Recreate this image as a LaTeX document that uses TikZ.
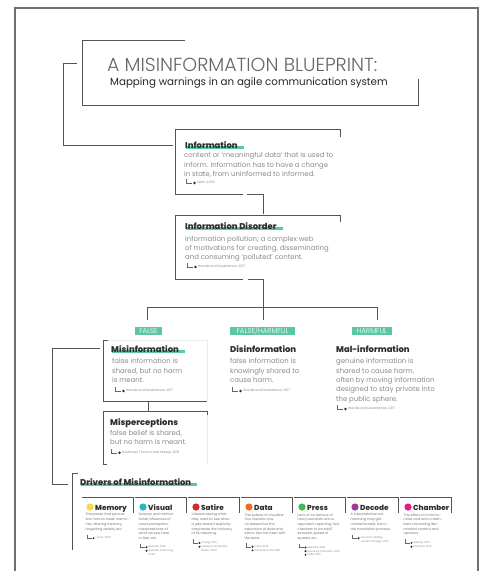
\documentclass[tikz,border=0pt]{standalone}
\usepackage{fontspec}
\setmainfont{Poppins}
\IfFontExistsTF{Poppins Light}{\newfontfamily\lightf{Poppins Light}}{\newfontfamily\lightf{Poppins}}
\IfFontExistsTF{Poppins ExtraBold}{\newfontfamily\heavyf{Poppins ExtraBold}}{\newfontfamily\heavyf{Poppins}[UprightFont=*Bold]}
\usetikzlibrary{calc,backgrounds}
\definecolor{frameg}{HTML}{707070}
\definecolor{lineg}{HTML}{555555}
\definecolor{bodyg}{HTML}{8A8A8A}
\definecolor{headk}{HTML}{2E2E2E}
\definecolor{mint}{HTML}{5CC7A6}
\definecolor{cmem}{HTML}{F6DA4B}
\definecolor{cvis}{HTML}{2AB3C6}
\definecolor{csat}{HTML}{D7242C}
\definecolor{cdat}{HTML}{F06A24}
\definecolor{cpre}{HTML}{3FBA4F}
\definecolor{cdec}{HTML}{993C96}
\definecolor{ccha}{HTML}{E51B8B}
\newcommand\hdline[1]{\begin{scope}[on background layer]\fill[mint] ($(#1.base west)+(1,-2.2)$) rectangle ($(#1.base east)+(6,0.6)$);\end{scope}}
\newcommand\citeat[3]{%
  \coordinate (#1c) at (#2);
  \draw[citel] ($(#1c)+(0,-4)$) -- (#1c) -- ($(#1c)+(6,0)$);
  \fill[headk] ($(#1c)+(8.5,0)$) circle (1.4pt);
  \node[cite] (#1) at ($(#1c)+(11,0)$) {#3};}
\newcommand\drv[5]{%
  \coordinate (#1l) at (#2,497);
  \draw[boxl] (#1l) -- ($(#1l)+(51,0)$) -- ($(#1l)+(51,16)$);
  \fill[#3] ($(#1l)+(8,10)$) circle (3.6pt);
  \node[dtitle] (#1t) at ($(#1l)+(13,13.1)$) {#4};
  \node[dbody] (#1b) at ($(#1l)+(3.5,16.2)$) {#5};}
\newcommand\dciteA[3]{%
  \coordinate (#1c) at ($(#2.south west)+(1.5,7)$);
  \draw[citel] ($(#1c)+(0,-3.5)$) -- (#1c) -- ($(#1c)+(4.5,0)$);
  \fill[headk] ($(#1c)+(6.5,0)$) circle (1.1pt);
  \node[dcite] (#1) at ($(#1c)+(8.5,-1.4)$) {#3};}
\newcommand\dciteB[3]{%
  \coordinate (#1c) at ($(#2.south west)+(-2,2.3)$);
  \fill[headk] (#1c) circle (1.1pt);
  \node[dcite] (#1) at ($(#1c)+(2,-1.4)$) {#3};}
\begin{document}
\begin{tikzpicture}[x=1pt,y=-1pt,
  frame/.style={draw=frameg,line width=1.4pt},
  boxl/.style={draw=lineg,line width=0.75pt},
  faint/.style={draw=black!7,line width=0.6pt},
  citel/.style={draw=black!60,line width=0.4pt},
  ttl/.style={font=\lightf\fontsize{18.9}{22}\selectfont,text=black!60,inner sep=0,anchor=base west},
  subt/.style={font=\fontsize{10.3}{12}\selectfont,text=black!85,inner sep=0,anchor=base west},
  hd/.style={font=\heavyf\fontsize{8.4}{10}\selectfont,text=headk,inner sep=0,anchor=base west},
  body/.style={font=\fontsize{6.9}{9.3}\selectfont,text=bodyg,inner sep=0,anchor=north west,align=left},
  tag/.style={fill=mint,text=white,font=\lightf\fontsize{7}{8}\selectfont,inner sep=0,minimum height=8.5pt},
  cite/.style={font=\fontsize{3.2}{4}\selectfont,text=bodyg,inner sep=0,anchor=west},
  dtitle/.style={font=\heavyf\fontsize{7.3}{9}\selectfont,text=headk,inner sep=0,anchor=base west},
  dbody/.style={font=\fontsize{3.4}{4.7}\selectfont,text=black!55,inner sep=0,anchor=north west,align=left},
  dcite/.style={font=\fontsize{2.6}{3.6}\selectfont,text=bodyg,inner sep=0,anchor=north west,align=left}]
\begin{scope}[on background layer]
\fill[white] (0,0) rectangle (485,571);
\end{scope}
\useasboundingbox (0,0) rectangle (485,571);
% outer frame
\draw[frame] (15,575) -- (15,8) -- (478,8) -- (478,575);
% title box
\draw[boxl] (185,40) -- (82,40) -- (82,105) -- (418,105) -- (418,79);
\node[ttl] (title) at (107,71.7) {A MISINFORMATION BLUEPRINT:};
\node[subt] (subtitle) at (110,85.3) {Mapping warnings in an agile communication system};
% bracket to Information
\coordinate (tb) at (77,63);
\coordinate (infoL) at (173,145);
\draw[boxl] (tb) -- (63,63) -- (63,145) -- (infoL);
% Information box
\draw[boxl] (340,137) -- (340,129) -- (175,129) -- (175,194) -- (243,194);
\node[hd] (info) at (185,148) {Information};
\hdline{info}
\node[body] (infob) at (184,152.5) {content or `meaningful data' that is used to\\inform. Information has to have a change\\in state, from uninformed to informed.};
\citeat{infoc}{186,183}{Stahl, 2006}
\coordinate (c1a) at (247,194.5);
\coordinate (c1b) at (263,214);
\draw[boxl] (c1a) -- (263,194.5) -- (c1b);
% Information Disorder box
\draw[boxl] (340,222) -- (340,215) -- (175,215) -- (175,279) -- (243,279);
\node[hd] (dis) at (185,229.5) {Information Disorder};
\hdline{dis}
\node[body] (disb) at (185,235.8) {information pollution; a complex web\\of motivations for creating, disseminating\\and consuming `polluted' content.};
\citeat{disc}{187,267}{Wardle and Derakhshan, 2017}
\coordinate (c2a) at (248,279.5);
\coordinate (br) at (263,307);
\draw[boxl] (c2a) -- (263,279.5) -- (br);
% branches
\coordinate (bl) at (147,320);
\coordinate (bm) at (263,320);
\coordinate (brr) at (377,320);
\draw[boxl] (bl) -- (147,307) -- (377,307) -- (brr);
\draw[boxl] (br) -- (bm);
\node[tag,minimum width=27pt] (tfalse) at (148.5,331) {FALSE};
\node[tag,minimum width=65pt] (tfh) at (262.5,331) {FALSE/HARMFUL};
\node[tag,minimum width=40pt] (tharm) at (372,331) {HARMFUL};
% Misinformation
\draw[faint] (108,340) -- (207,340) -- (207,401);
\draw[boxl] (108,340) -- (103,340) -- (103,401) -- (207,401);
\node[hd] (mis) at (111,352.3) {Misinformation};
\hdline{mis}
\node[body] (misb) at (112,358.5) {false information is\\shared, but no harm\\is meant.};
\citeat{misc}{115,391}{Wardle and Derakhshan, 2017}
% Disinformation
\node[hd] (disi) at (230,352.3) {Disinformation};
\node[body] (disib) at (230,358.5) {false information is\\knowingly shared to\\cause harm.};
\citeat{disic}{232,391}{Wardle and Derakhshan, 2017}
% Mal-information
\node[hd] (mal) at (336,352.3) {Mal-information};
\node[body] (malb) at (336,358.5) {genuine information is\\shared to cause harm,\\often by moving information\\designed to stay private into\\the public sphere.};
\citeat{malc}{337,409}{Wardle and Derakhshan, 2017}
% Misperceptions
\coordinate (m1) at (148,401);
\coordinate (m2) at (148,411);
\draw[boxl] (m1) -- (m2);
\draw[faint] (207,415) -- (207,464);
\draw[boxl] (207,415) -- (207,411) -- (103,411) -- (103,464) -- (107,464);
\node[hd] (mp) at (110,425) {Misperceptions};
\node[body] (mpb) at (110,430.1) {false belief is shared,\\but no harm is meant.};
\citeat{mpc}{111,452.7}{Southwell, Thorson and Sheble, 2018}
% bracket to drivers
\coordinate (lb1) at (100,348);
\coordinate (lb2) at (68,484);
\draw[boxl] (lb1) -- (52,348) -- (52,484) -- (lb2);
\draw[boxl] (78,473) -- (72,473) -- (72,550);
\node[hd] (drv) at (80,485) {Drivers of Misinformation};
\hdline{drv}
% driver boxes
\drv{mem}{82}{cmem}{Memory}{The power that persua-\\sion has on weak memo-\\ries, altering memory,\\forgetting details, etc.}
\dciteA{memc1}{memb}{Loftus, 2005}
\drv{vis}{135}{cvis}{Visual}{Sensory and motiva-\\tional influences of\\visual perception,\\interpretations of\\what we see, hear\\or feel, etc.}
\dciteA{visc1}{visb}{Balcetis, 2016}
\dciteB{visc2}{visc1}{Balcetis \& Dunning,\\2006}
\drv{sat}{188}{csat}{Satire}{Viewers seeing what\\they want to see when\\a joke doesn't explicitly\\emphasize the intricacy\\of its meaning.}
\dciteA{satc1}{satb}{Young, 2016}
\dciteB{satc2}{satc1}{LaMarre, Landreville,\\Beam, 2009}
\drv{dat}{241}{cdat}{Data}{The sphere of visualiza-\\tion creators has\\increased but the\\education of data and\\ethics has not risen with\\the data.}
\dciteA{datc1}{datb}{Cairo, 2015}
\dciteB{datc2}{datc1}{Kennedy \& Hill, 2018}
\drv{pre}{294}{cpre}{Press}{Lack of consensus of\\how journalists are to\\approach reporting, fact\\checkers to be said/\\stressed, speed of\\spread, etc.}
\dciteA{prec1}{preb}{Marwick, 2018}
\dciteB{prec2}{prec1}{Graves \& Cherubini, 2016}
\dciteB{prec3}{prec2}{Fallis, 2015}
\drv{dec}{347}{cdec}{Decode}{A interpretative act,\\meaning may get\\unintentionally lost in\\the translation process.}
\dciteA{decc1}{decb}{van Ham, Wattig,\\Jansen \& Dasgo, 2010}
\drv{cha}{400}{ccha}{Chamber}{The effect of commu-\\nities and echo cham-\\bers circulating like-\\minded content and\\opinions.}
\dciteA{chac1}{chab}{Bakshy, 2015}
\dciteB{chac2}{chac1}{Flaxman, 2016}
\end{tikzpicture}
\end{document}
